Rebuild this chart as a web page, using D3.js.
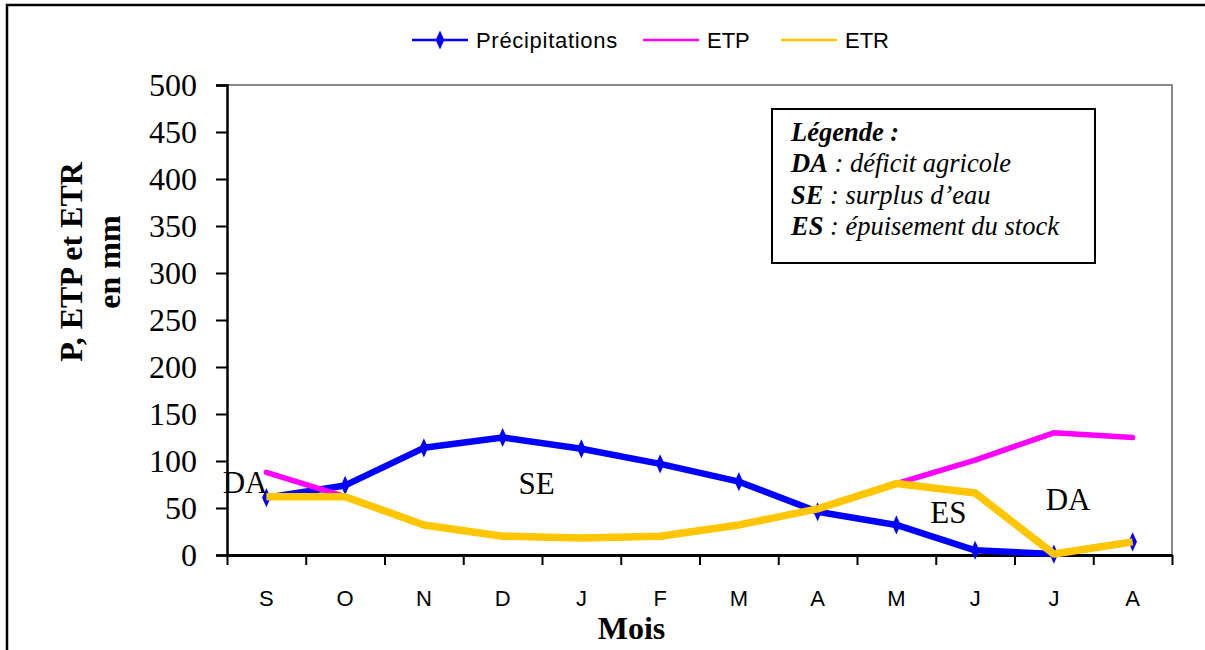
<!DOCTYPE html>
<html>
<head>
<meta charset="utf-8">
<script src="https://cdn.jsdelivr.net/npm/d3@7"></script>
<style>
  html, body { margin: 0; padding: 0; background: #fff; }
  svg { display: block; }
</style>
</head>
<body>
<svg id="chart" width="1205" height="650"></svg>
<script>
// Monthly water balance: precipitation, potential (ETP) and real (ETR) evapotranspiration
const months = ["S", "O", "N", "D", "J", "F", "M", "A", "M", "J", "J", "A"];
const precipitations = [61, 74, 114, 125, 113, 97, 78, 46, 32, 5, 1, 14];
const etp = [88, 62, 32, 20, 18, 20, 32, 49, 76, 101, 130, 125];
const etr = [62, 62, 32, 20, 18, 20, 32, 49, 76, 66, 1, 14];
const yTicks = [0, 50, 100, 150, 200, 250, 300, 350, 400, 450, 500];

// Period annotations: position in months (fractional band index) and value
const periods = [
  { label: "DA", m: 0.23, v: 66 },
  { label: "SE", m: 3.93, v: 65 },
  { label: "ES", m: 9.16, v: 34 },
  { label: "DA", m: 10.68, v: 48 }
];
const legendNotes = [
  { key: "DA", text: " : déficit agricole" },
  { key: "SE", text: " : surplus d’eau" },
  { key: "ES", text: " : épuisement du stock" }
];

const svg = d3.select("#chart");
const plot = { left: 227, right: 1172, top: 85, bottom: 555 };

const idx = d3.range(months.length);
const x = d3.scaleBand().domain(idx).range([plot.left, plot.right]);
const xEdge = d3.scaleLinear().domain([0, months.length]).range([plot.left, plot.right]);
const y = d3.scaleLinear().domain([0, 500]).range([plot.bottom, plot.top]);
const cx = i => x(i) + x.bandwidth() / 2;

// Outer frame
svg.append("rect")
  .attr("x", 7).attr("y", 5).attr("width", 1230).attr("height", 680)
  .attr("fill", "none").attr("stroke", "#000").attr("stroke-width", 2.5);

// Plot area border (top and right in grey)
svg.append("path")
  .attr("d", `M${plot.left},${plot.top}H${plot.right}V${plot.bottom}`)
  .attr("fill", "none").attr("stroke", "#888").attr("stroke-width", 2);

// Y axis
const yAxis = svg.append("g")
  .attr("transform", `translate(${plot.left},0)`)
  .call(d3.axisLeft(y).tickValues(yTicks).tickSize(11).tickPadding(19));
yAxis.select(".domain").attr("stroke", "#000").attr("stroke-width", 2.5);
yAxis.selectAll(".tick line").attr("stroke", "#000").attr("stroke-width", 2);
yAxis.selectAll(".tick text")
  .attr("font-family", "'Liberation Serif', 'Times New Roman', serif")
  .attr("font-size", 32).attr("fill", "#000");

// X axis: ticks at month boundaries
const xTicksAxis = svg.append("g")
  .attr("transform", `translate(0,${plot.bottom})`)
  .call(d3.axisBottom(xEdge).tickValues(d3.range(months.length + 1)).tickFormat("").tickSize(10).tickSizeOuter(0));
xTicksAxis.select(".domain").attr("stroke", "#000").attr("stroke-width", 3);
xTicksAxis.selectAll(".tick line").attr("stroke", "#000").attr("stroke-width", 2);

// X axis: month labels at band centres
const xLabels = svg.append("g")
  .attr("transform", `translate(0,${plot.bottom})`)
  .call(d3.axisBottom(x).tickSize(0).tickFormat(i => months[i]));
xLabels.select(".domain").remove();
xLabels.selectAll(".tick text")
  .attr("y", 51).attr("dy", 0)
  .attr("font-family", "'Liberation Sans', Arial, sans-serif")
  .attr("font-size", 22).attr("fill", "#000");

// Axis titles
svg.append("text")
  .attr("x", (plot.left + plot.right) / 2 - 68).attr("y", 639)
  .attr("text-anchor", "middle")
  .attr("font-family", "'Liberation Serif', 'Times New Roman', serif")
  .attr("font-weight", "bold").attr("font-size", 32)
  .text("Mois");

const yTitle = svg.append("text")
  .attr("transform", "translate(0,262) rotate(-90)")
  .attr("text-anchor", "middle")
  .attr("font-family", "'Liberation Serif', 'Times New Roman', serif")
  .attr("font-weight", "bold").attr("font-size", 32);
yTitle.append("tspan").attr("x", 0).attr("y", 82).text("P, ETP et ETR");
yTitle.append("tspan").attr("x", 0).attr("y", 120).text("en mm");

// Series lines
const line = d3.line().x((d, i) => cx(i)).y(d => y(d));

svg.append("path").datum(precipitations)
  .attr("d", line).attr("fill", "none")
  .attr("stroke", "#0000ff").attr("stroke-width", 6.5)
  .attr("stroke-linejoin", "round").attr("stroke-linecap", "round");

svg.append("g").selectAll("path").data(precipitations).join("path")
  .attr("d", d3.symbol(d3.symbolDiamond, 80))
  .attr("transform", (d, i) => `translate(${cx(i)},${y(d)}) scale(0.9,1.15)`)
  .attr("fill", "#0000ff");

svg.append("path").datum(etp)
  .attr("d", line).attr("fill", "none")
  .attr("stroke", "#ff00ff").attr("stroke-width", 5.5)
  .attr("stroke-linejoin", "round").attr("stroke-linecap", "round");

svg.append("path").datum(etr)
  .attr("d", line).attr("fill", "none")
  .attr("stroke", "#ffc600").attr("stroke-width", 7.5)
  .attr("stroke-linejoin", "round").attr("stroke-linecap", "butt");

// Period annotations
svg.append("g").selectAll("text").data(periods).join("text")
  .attr("x", d => xEdge(d.m)).attr("y", d => y(d.v))
  .attr("text-anchor", "middle")
  .attr("font-family", "'Liberation Serif', 'Times New Roman', serif")
  .attr("font-size", 31).attr("fill", "#000")
  .text(d => d.label);

// Key box
const key = svg.append("g");
key.append("rect")
  .attr("x", 772).attr("y", 109).attr("width", 323).attr("height", 154)
  .attr("fill", "#fff").attr("stroke", "#000").attr("stroke-width", 2);
const keyFont = "'Liberation Serif', 'Times New Roman', serif";
key.append("text")
  .attr("x", 791).attr("y", 141)
  .attr("font-family", keyFont).attr("font-size", 26.5)
  .attr("font-weight", "bold").attr("font-style", "italic")
  .text("Légende :");
legendNotes.forEach((n, i) => {
  const t = key.append("text")
    .attr("x", 791).attr("y", 172 + i * 31.7)
    .attr("font-family", keyFont).attr("font-size", 26.5).attr("font-style", "italic");
  t.append("tspan").attr("font-weight", "bold").text(n.key);
  t.append("tspan").text(n.text);
});

// Series legend
const legendItems = [
  { name: "Précipitations", color: "#0000ff", x0: 412, marker: true },
  { name: "ETP", color: "#ff00ff", x0: 643, marker: false },
  { name: "ETR", color: "#ffc600", x0: 781, marker: false }
];
const lg = svg.append("g");
legendItems.forEach(it => {
  lg.append("line")
    .attr("x1", it.x0).attr("x2", it.x0 + 56).attr("y1", 40).attr("y2", 40)
    .attr("stroke", it.color).attr("stroke-width", 2.5);
  if (it.marker) {
    lg.append("path")
      .attr("d", d3.symbol(d3.symbolDiamond, 80))
      .attr("transform", `translate(${it.x0 + 28},40) scale(0.9,1.15)`)
      .attr("fill", it.color);
  }
  lg.append("text")
    .attr("x", it.x0 + 64).attr("y", 48)
    .attr("font-family", "'Liberation Sans', Arial, sans-serif")
    .attr("font-size", 22).attr("letter-spacing", it.name.length > 3 ? 0.7 : 0)
    .attr("fill", "#000")
    .text(it.name);
});
</script>
</body>
</html>
